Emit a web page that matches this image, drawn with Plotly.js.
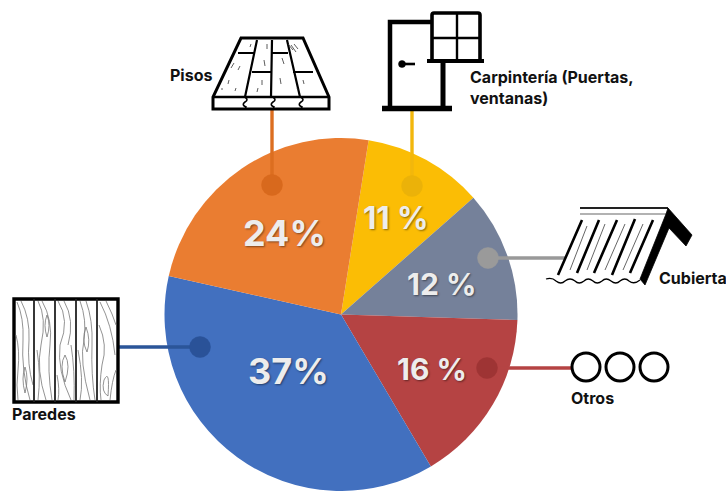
<!DOCTYPE html>
<html>
<head>
<meta charset="utf-8">
<script src="https://cdn.plot.ly/plotly-3.0.1.min.js"></script>
<style>html,body{margin:0;padding:0;background:#fff}#chart{width:726px;height:491px}</style>
</head>
<body>
<div id="chart"></div>
<script>
// Share of each building element, clockwise from the top slice
const categories = ['Carpintería (Puertas, ventanas)', 'Cubierta', 'Otros', 'Paredes', 'Pisos'];
const shares = [11, 12, 16, 37, 24];
const sliceColors = ['#FBBD05', '#75819A', '#B54343', '#4270BF', '#EA7D31'];
const shareSuffix = [' %', ' %', ' %', '%', '%'];

const W = 726, H = 491;
const INK = '#000000';

// Drawing helpers: icons are authored in page pixels and converted to paper space
const pxX = x => x / W;
const pxY = y => 1 - y / H;
const toPaper = d => d.replace(/(-?[\d.]+)[ ,](-?[\d.]+)/g, (m, x, y) => pxX(+x) + ',' + pxY(+y));
const path = (d, color = INK, width = 2, fill = 'rgba(0,0,0,0)') => ({
  type: 'path', xref: 'paper', yref: 'paper', layer: 'above', path: toPaper(d),
  line: { color, width }, fillcolor: fill
});
const circle = (cx, cy, r, lineColor, width, fill) => ({
  type: 'circle', xref: 'paper', yref: 'paper', layer: 'above',
  x0: pxX(cx - r), x1: pxX(cx + r), y0: pxY(cy + r), y1: pxY(cy - r),
  line: { color: lineColor, width }, fillcolor: fill
});
const seg = (x0, y0, x1, y1, color, width) => path(`M${x0} ${y0} L${x1} ${y1}`, color, width);

// Floor boards icon
const floorIcon = [
  path('M241 38 L303 38 L329 97 L329 109 L213 109 L213 97 Z', INK, 3, '#ffffff'),
  path('M213 97 L329 97', INK, 2.6),
  path('M257 40 L245 97 M272 40 L271 97 M287 40 L300 97', INK, 2.2),
  path('M238 53 L255 53 M272 53 L288 53 M252 72 L271 72 M293 72 L313 72', INK, 2.2),
  path('M245 97 Q249 100 245 102 Q241 105 246 107 L245 109', INK, 1.6),
  path('M273 97 Q277 100 273 102 Q269 105 274 107 L273 109', INK, 1.6),
  path('M301 97 Q305 100 301 102 Q297 105 302 107 L301 109', INK, 1.6),
  path('M234 63 L231 68 M240 66 L238 70 M229 80 L228 84 M236 88 L235 91 M222 88 L222 90 M264 60 L265 66 M262 80 L262 85 M258 88 L257 92 M282 58 L284 64 M280 78 L281 84 M291 45 L296 52 M288 44 L293 50 M294 44 L298 49 M303 80 L304 84 M297 88 L298 90 M267 44 L267 49 M251 44 L250 47', '#333333', 0.8)
];

// Door with window icon
const doorIcon = [
  path('M390 108 L390 22 L432 22', INK, 4.5),
  path('M443 61 L443 108', INK, 5),
  path('M382 108.5 L452 108.5', INK, 5.5),
  path('M434 13 L478 13 Q480 13 480 15 L480 61 L432 61 L432 15 Q432 13 434 13 Z', INK, 3.6, '#ffffff'),
  path('M427 61 L484 61', INK, 4),
  path('M457 13 L457 61 M432 38 L480 38', INK, 2.4),
  circle(402, 64, 3.5, INK, 0.5, INK),
  seg(402, 64, 415, 64, INK, 2.6)
];

// Corrugated roof icon
const roofIcon = [
  path('M580 208 L668 208', '#222222', 2),
  path('M580 214 L667 214', '#999999', 1.6),
  path('M668 208 L692 235 L686 246 L669 228 L645 285 L640 279 L666 214 Z', INK, 0.8, INK),
  path('M582 220 L558 275 M599 220 L577 273 M617 220 L594 273 M635 219 L612 275 M653 220 L630 273', INK, 2.6),
  path('M587 226 L570 270 M605 224 L587 270 M625 224 L605 270 M643 224 L623 270', '#555555', 0.9),
  path('M546 279 Q552 277 556 281 Q561 285 565 281 Q570 277 575 281 Q579 285 584 281 Q588 277 593 281 Q597 285 602 281 Q606 277 611 281 Q616 285 620 281 Q625 277 629 281 Q634 285 640 280', INK, 1.3)
];

// Three open circles standing for the remaining items
const otherIcon = [
  circle(586, 367, 14, INK, 3, '#ffffff'),
  circle(620, 367, 14, INK, 3, '#ffffff'),
  circle(654, 367, 14, INK, 3, '#ffffff')
];

// Wood planks icon with grain lines running down each board
const G = '#777777';
const grainLines = [
  'M17 302 Q24 318 23 340 Q21 370 30 400',
  'M21 301 Q30 318 29 340 Q27 365 33 385',
  'M16 335 Q20 350 18 370 Q16 385 18 400',
  'M38 301 Q47 318 41 345 Q36 370 46 400',
  'M42 301 Q53 320 50 345 Q47 370 52 400',
  'M37 350 Q41 375 38 400',
  'M58 301 Q70 320 60 345 Q57 370 71 400',
  'M64 301 Q75 320 68 345',
  'M71 345 Q75 370 74 400',
  'M57 375 Q60 390 58 400',
  'M80 301 Q87 320 84 340 Q79 360 90 400',
  'M86 301 Q93 320 92 345 Q91 375 95 400',
  'M78 350 Q84 380 80 400',
  'M100 302 Q112 325 115 355',
  'M106 301 Q113 315 116 325',
  'M99 325 Q108 345 102 365 Q99 385 101 400',
  'M110 400 Q112 380 116 370'
];
const grainKnots = [
  'M25 367 Q29 378 25 393 Q21 378 25 367 Z',
  'M47 315 Q51 325 47 337 Q43 325 47 315 Z',
  'M65 355 Q71 365 65 382 Q59 365 65 355 Z',
  'M86 327 Q91 340 87 352 Q81 340 86 327 Z',
  'M104 380 Q110 368 108 396 Q101 392 104 380 Z'
];
const wallIcon = [
  path('M14 299 L118 299 L118 402 L14 402 Z', INK, 3.4, '#ffffff'),
  ...grainLines.map(d => path(d, G, 0.8)),
  ...grainKnots.map(d => path(d, G, 0.8)),
  path('M34 299 L34 402 M55 299 L55 402 M76 299 L76 402 M97 299 L97 402', '#222222', 1.8)
];

// Leader lines tying each slice to its icon
const leaders = [
  seg(272, 110, 272, 185, '#DC6E20', 3.4), circle(272, 185, 10.5, '#D8691D', 0.5, '#D8691D'),
  seg(412, 111, 412, 186, '#F2B70C', 3.4), circle(412, 186, 10.5, '#EBB209', 0.5, '#EBB209'),
  seg(488, 258, 565, 258, '#999999', 3.4), circle(488, 258, 10.5, '#9A9A9A', 0.5, '#9A9A9A'),
  seg(487, 368, 572, 368, '#B54343', 3.4), circle(487, 368, 10.5, '#9E3434', 0.5, '#9E3434'),
  seg(119, 347, 200, 347, '#2B5599', 3.4), circle(200, 347, 10.5, '#2A5298', 0.5, '#2A5298')
];

const labelFont = { family: 'Inter, "Liberation Sans", sans-serif', size: 16, color: '#111111', weight: 700 };
const note = (text, x, y) => ({
  text, xref: 'paper', yref: 'paper', x: pxX(x), y: pxY(y), xanchor: 'left', yanchor: 'middle',
  align: 'left', showarrow: false, font: labelFont
});

// Percentage text sits over the slices; each string comes from the share it describes
const shareSpots = [[396, 218, 31], [441, 284, 30], [432, 369, 30], [288, 371, 36], [284, 233, 36]];
const shareNotes = shares.map((v, i) => ({
  text: v + shareSuffix[i], xref: 'paper', yref: 'paper',
  x: pxX(shareSpots[i][0]), y: pxY(shareSpots[i][1]), xanchor: 'center', yanchor: 'middle', showarrow: false,
  font: {
    family: 'Inter, "Liberation Sans", sans-serif', size: shareSpots[i][2], color: '#EDEDED', weight: 700,
    shadow: '1px 1px 2px rgba(0,0,0,0.45)'
  }
}));

Plotly.newPlot('chart', [{
  type: 'pie',
  labels: categories,
  values: shares,
  sort: false,
  direction: 'clockwise',
  rotation: 9,
  textinfo: 'none',
  hoverinfo: 'label+percent',
  marker: { colors: sliceColors, line: { width: 0 } },
  domain: { x: [164 / W, 518 / W], y: [0, 1 - 138 / H] },
  showlegend: false
}], {
  width: W, height: H,
  margin: { l: 0, r: 0, t: 0, b: 0 },
  paper_bgcolor: '#ffffff',
  showlegend: false,
  shapes: [...leaders, ...floorIcon, ...doorIcon, ...roofIcon, ...otherIcon, ...wallIcon],
  annotations: [
    ...shareNotes,
    note('Pisos', 168, 75),
    note('Carpintería (Puertas,<br>ventanas)', 468, 88),
    note('Cubierta', 657, 278),
    note('Otros', 569, 398),
    note('Paredes', 10, 414)
  ]
}, { displayModeBar: false, responsive: false });
</script>
</body>
</html>
